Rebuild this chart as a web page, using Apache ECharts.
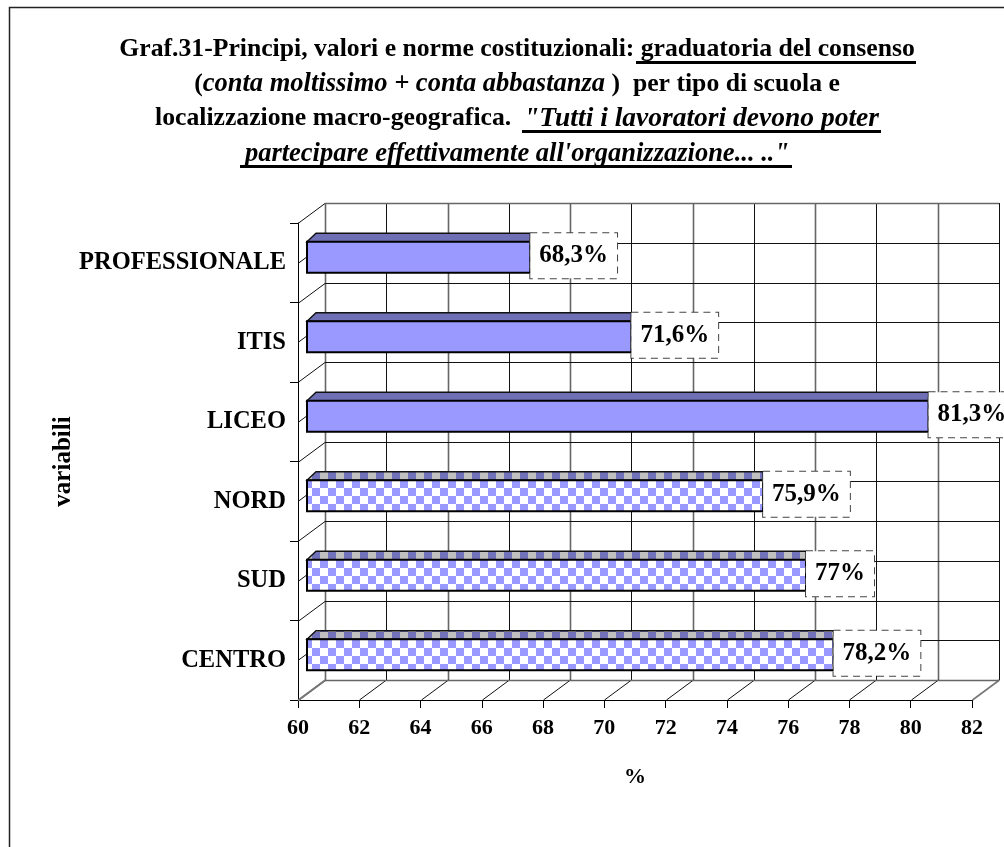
<!DOCTYPE html>
<html>
<head>
<meta charset="utf-8">
<style>html,body{margin:0;padding:0;background:#fff}#c{width:1004px;height:847px}</style>
<script src="https://cdn.jsdelivr.net/npm/echarts@6/dist/echarts.min.js"></script>
</head>
<body>
<div id="c"></div>
<script>
var categories = ['PROFESSIONALE', 'ITIS', 'LICEO', 'NORD', 'SUD', 'CENTRO'];
var barValues = [68.3, 71.6, 81.3, 75.9, 77.3, 78.2];
var valueLabels = ['68,3%', '71,6%', '81,3%', '75,9%', '77%', '78,2%'];
var patterned = [false, false, false, true, true, true];
var xTicks = [60, 62, 64, 66, 68, 70, 72, 74, 76, 78, 80, 82];
var wallRows = [0, 1, 2, 3, 4, 5, 6, 7, 8, 9, 10, 11, 12];

var FONT = '"Liberation Serif", "Times New Roman", serif';
var DX = 27, DY = -20;           // depth of the 3D box
var BAR_DX = 9, BAR_TOP = 8.5;   // depth of a bar
var BAR_SHIFT = 22;              // bars sit in the mid-depth plane of the box

function checker(a, b, cell) {
  var cv = document.createElement('canvas');
  cv.width = cv.height = cell * 2;
  var g = cv.getContext('2d');
  g.fillStyle = a; g.fillRect(0, 0, cell * 2, cell * 2);
  g.fillStyle = b; g.fillRect(0, 0, cell, cell); g.fillRect(cell, cell, cell, cell);
  return cv;
}
var frontPattern = { image: checker('#ffffff', '#9999ff', 8), repeat: 'repeat' };
var topPattern = { image: checker('#c0c0c0', '#7272bb', 8), repeat: 'repeat' };

function rich(text, style) { return '{' + style + '|' + text + '}'; }
var richStyles = {
  b: { fontFamily: FONT, fontSize: 25.7, fontWeight: 'bold', color: '#000' },
  i: { fontFamily: FONT, fontSize: 26.5, fontWeight: 'bold', fontStyle: 'italic', color: '#000' },
  j: { fontFamily: FONT, fontSize: 27.5, fontWeight: 'bold', fontStyle: 'italic', color: '#000' }
};
var titleLines = [
  rich('Graf.31-Principi, valori e norme costituzionali: graduatoria del consenso', 'b'),
  rich('(', 'b') + rich('conta moltissimo + conta abbastanza', 'i') + rich(' )  per tipo di scuola e', 'b'),
  rich('localizzazione macro-geografica.  ', 'b') + rich('"Tutti i lavoratori devono poter', 'j'),
  rich("partecipare effettivamente all'organizzazione... ..\"", 'i')
];
var titleTops = [36, 71, 105, 141];

var option = {
  animation: false,
  backgroundColor: '#fff',
  title: titleLines.map(function (t, i) {
    return { text: t, left: 517, top: titleTops[i], textAlign: 'center', padding: 0,
             textStyle: { rich: richStyles, fontFamily: FONT, fontSize: 25 } };
  }),
  grid: { left: 298, top: 223, width: 674, height: 477 },
  xAxis: {
    type: 'value', min: 60, max: 82, interval: 2,
    name: '%', nameLocation: 'middle', nameGap: 66,
    nameTextStyle: { fontFamily: FONT, fontSize: 22, fontWeight: 'bold', color: '#000' },
    axisLine: { show: true, lineStyle: { color: '#000', width: 1 } },
    axisTick: { show: true, length: 8, lineStyle: { color: '#000', width: 1 } },
    axisLabel: { fontFamily: FONT, fontSize: 22, fontWeight: 'bold', color: '#000', margin: 17 },
    splitLine: { show: false }
  },
  yAxis: {
    type: 'category', inverse: true, data: categories,
    name: 'variabili', nameLocation: 'middle', nameGap: 222, nameRotate: 90, nameMoveOverlap: false,
    nameTextStyle: { fontFamily: FONT, fontSize: 25, fontWeight: 'bold', color: '#000' },
    axisLine: { show: true, onZero: false, lineStyle: { color: '#000', width: 1 } },
    axisTick: { show: true, length: 8, lineStyle: { color: '#000', width: 1 } },
    axisLabel: { fontFamily: FONT, fontSize: 24.5, fontWeight: 'bold', color: '#000', margin: 12 },
    splitLine: { show: false }
  },
  graphic: [
    { type: 'polyline', silent: true, z: 0, shape: { points: [[9.5, 847], [9.5, 7.5], [1004, 7.5]] },
      style: { fill: null, stroke: '#222', lineWidth: 1.5 } },
    { type: 'rect', silent: true, shape: { x: 636, y: 61, width: 280, height: 3 }, style: { fill: '#000' } },
    { type: 'rect', silent: true, shape: { x: 522, y: 130, width: 359, height: 3 }, style: { fill: '#000' } },
    { type: 'rect', silent: true, shape: { x: 240, y: 165, width: 552, height: 3 }, style: { fill: '#000' } }
  ],
  series: [
    {
      type: 'custom', z: 1, silent: true, clip: false,
      coordinateSystem: 'cartesian2d',
      data: xTicks.map(function (v) { return [v, 0]; }),
      encode: { x: 0, y: 1 },
      renderItem: function (params, api) {
        var p = api.coord([api.value(0), 0]);
        var band = api.size([0, 1])[1];
        var top = p[1] - band / 2, bottom = top + band * categories.length;
        var x = Math.round(p[0]) + 0.5;
        var isEnd = params.dataIndex === 0 || params.dataIndex === xTicks.length - 1;
        var odd = params.dataIndex % 2;
        return { type: 'group', children: [
          { type: 'line', shape: { x1: x + DX, y1: top + DY, x2: x + DX, y2: bottom + DY },
            style: { stroke: odd ? '#111' : '#666', lineWidth: odd ? 1 : 1.6 } },
          { type: 'line', shape: { x1: x, y1: bottom, x2: x + DX, y2: bottom + DY },
            style: { stroke: isEnd ? '#777' : '#111', lineWidth: isEnd ? 1.6 : 1 } }
        ] };
      }
    },
    {
      type: 'custom', z: 1, silent: true, clip: false,
      coordinateSystem: 'cartesian2d',
      data: wallRows.map(function (k) { return [60, k]; }),
      encode: { x: 0, y: 1 },
      renderItem: function (params, api) {
        var p = api.coord([60, 0]);
        var q = api.coord([82, 0]);
        var band = api.size([0, 1])[1];
        var y = Math.round(p[1] - band / 2 + params.dataIndex * band / 2) + 0.5;
        var last = params.dataIndex === wallRows.length - 1;
        var gray = !(params.dataIndex % 2) && (params.dataIndex < 2 || last);
        return { type: 'group', children: [
          { type: 'line', shape: { x1: p[0] + DX, y1: y + DY, x2: q[0] + DX, y2: y + DY },
            style: { stroke: gray ? '#666' : '#111', lineWidth: gray ? 1.6 : 1 } },
          { type: 'line', shape: { x1: p[0], y1: y, x2: p[0] + DX, y2: y + DY },
            style: { stroke: last ? '#777' : '#111', lineWidth: last ? 1.6 : 1 } }
        ] };
      }
    },
    {
      type: 'custom', z: 3, silent: true, clip: false,
      coordinateSystem: 'cartesian2d',
      data: barValues.map(function (v, i) { return [v, i]; }),
      encode: { x: 0, y: 1 },
      renderItem: function (params, api) {
        var i = api.value(1);
        var end = api.coord([api.value(0), i]);
        var start = api.coord([60, i]);
        var xs = start[0] + BAR_DX, xe = end[0] - BAR_SHIFT;
        var yt = end[1] - 21, yb = end[1] + 10;
        var pat = patterned[i];
        return { type: 'group', children: [
          { type: 'polygon',
            shape: { points: [[xs, yt], [xs + BAR_DX, yt - BAR_TOP], [xe, yt - BAR_TOP], [xe, yt]] },
            style: { fill: pat ? topPattern : '#6f6fb5', stroke: '#111', lineWidth: 1.4 } },
          { type: 'rect', shape: { x: xs, y: yt, width: xe - xs, height: yb - yt },
            style: { fill: pat ? frontPattern : '#9999ff', stroke: '#000', lineWidth: 2 } },
          { type: 'text', z2: 10,
            style: {
              x: xe, y: yt + 14, text: valueLabels[i], align: 'left', verticalAlign: 'middle',
              font: 'bold 25px ' + FONT, fill: '#000',
              backgroundColor: '#fff', borderColor: '#444', borderWidth: 1, borderDash: [7, 5],
              padding: [12, 9, 8, 9]
            } }
        ] };
      }
    }
  ]
};
echarts.init(document.getElementById('c'), null, { renderer: 'canvas' }).setOption(option);
</script>
</body>
</html>
